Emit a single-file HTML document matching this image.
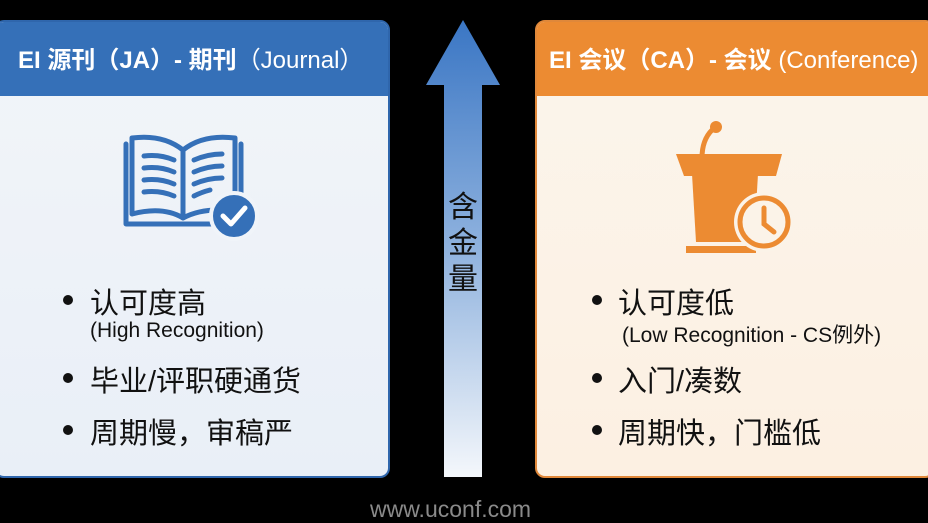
<!DOCTYPE html>
<html><head><meta charset="utf-8"><style>
*{margin:0;padding:0;box-sizing:border-box}
body{width:928px;height:520px;background:#000;position:relative;overflow:hidden;font-family:"Liberation Sans","Noto Sans CJK SC",sans-serif}
.card{position:absolute;top:20px;height:458px;border-radius:10px;overflow:hidden}
.hd{position:absolute;left:0;top:0;right:0;height:74px;color:#fff;font-size:24px;font-weight:bold;line-height:78px;white-space:nowrap}
.t{position:absolute;color:#111;white-space:nowrap}
.b{font-size:29px}
.s{font-size:21px}
.dot{position:absolute;width:10px;height:10px;border-radius:50%;background:#111}
</style></head><body>
<div class="card" style="left:-6px;width:396px;background:linear-gradient(#f2f5f9,#e9eff7);border:2px solid #2f66ac">
 <div class="hd" style="background:#3570b8;padding-left:22px">EI 源刊（JA）- 期刊<span style="font-weight:normal">（Journal）</span></div>
</div>
<svg style="position:absolute;left:118px;top:130px" width="145" height="112" viewBox="0 0 145 112">
 <g fill="none" stroke="#3570b8" stroke-width="5" stroke-linejoin="round" stroke-linecap="round">
  <path d="M8 14 V94 H110"/><path d="M123 14 V70"/>
  <path d="M14 8 Q45 4 65 20 V88 Q45 76 14 84 Z"/>
  <path d="M65 20 Q85 4 117 8 V70 M65 88 Q80 80 100 80"/>
  <path d="M26 26 Q42 24 56 30 M26 38 Q42 36 56 42 M26 50 Q42 48 56 54 M26 62 Q42 60 56 66"/>
  <path d="M76 30 Q90 24 104 24 M76 42 Q90 36 104 36 M76 54 Q90 48 104 48 M76 66 Q84 62 92 60"/>
 </g>
 <circle cx="116" cy="86" r="23" fill="#3570b8" stroke="#f0f4f9" stroke-width="4"/>
 <path d="M105 86 L113 94 L127 78" fill="none" stroke="#fff" stroke-width="5" stroke-linecap="round" stroke-linejoin="round"/>
</svg>
<div class="dot" style="left:63px;top:295px"></div>
<div class="t b" style="left:90px;top:280px">认可度高</div>
<div class="t s" style="left:90px;top:319px">(High Recognition)</div>
<div class="dot" style="left:63px;top:373px"></div>
<div class="t b" style="left:90px;top:358px">毕业/评职硬通货</div>
<div class="dot" style="left:63px;top:425px"></div>
<div class="t b" style="left:90px;top:410px">周期慢，审稿严</div>

<svg style="position:absolute;left:420px;top:15px" width="90" height="465">
 <defs><linearGradient id="g" x1="0" y1="0" x2="0" y2="1"><stop offset="0" stop-color="#3a76c4"/><stop offset="0.5" stop-color="#8fb2de"/><stop offset="1" stop-color="#f4f7fb"/></linearGradient></defs>
 <path d="M43 5 L80 70 L62 70 L62 462 L24 462 L24 70 L6 70 Z" fill="url(#g)"/>
</svg>
<div class="t" style="left:446px;top:190px;font-size:30px;line-height:36px;width:34px;text-align:center">含<br>金<br>量</div>

<div class="card" style="left:535px;width:400px;background:linear-gradient(#fbf5ec,#fcf0e2);border:2px solid #e0883a">
 <div class="hd" style="background:#ec8b32;padding-left:12px">EI 会议（CA）- 会议 <span style="font-weight:normal">(Conference)</span></div>
</div>
<svg style="position:absolute;left:672px;top:118px" width="125" height="140" viewBox="0 0 125 140">
 <path d="M30 40 Q30 22 40 12" fill="none" stroke="#ec8b32" stroke-width="5"/>
 <circle cx="44" cy="9" r="6" fill="#ec8b32"/>
 <path d="M4 36 H110 L104 58 H12 Z" fill="#ec8b32"/>
 <path d="M20 56 H86 L82 124 H24 Z" fill="#ec8b32"/>
 <rect x="14" y="128" width="70" height="7" fill="#ec8b32"/>
 <circle cx="92" cy="104" r="30" fill="#fbf3e8"/>
 <circle cx="92" cy="104" r="24" fill="none" stroke="#ec8b32" stroke-width="5"/>
 <path d="M92 90 V106 L102 114" fill="none" stroke="#ec8b32" stroke-width="5" stroke-linecap="round"/>
</svg>
<div class="dot" style="left:592px;top:295px"></div>
<div class="t b" style="left:618px;top:280px">认可度低</div>
<div class="t s" style="left:622px;top:319px">(Low Recognition - CS例外)</div>
<div class="dot" style="left:592px;top:373px"></div>
<div class="t b" style="left:618px;top:358px">入门/凑数</div>
<div class="dot" style="left:592px;top:425px"></div>
<div class="t b" style="left:618px;top:410px">周期快，门槛低</div>

<div class="t" style="left:370px;top:496px;font-size:23px;color:#8a8a8a">www.uconf.com</div>
</body></html>
